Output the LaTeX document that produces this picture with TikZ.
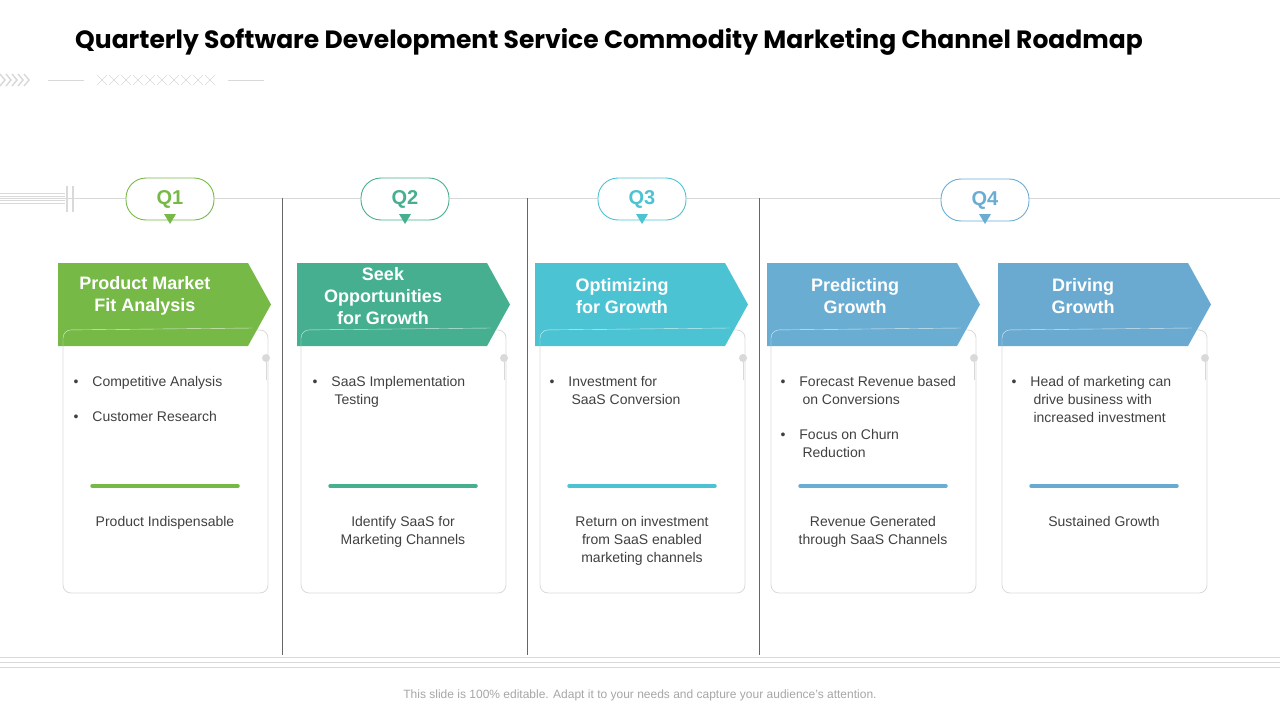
\documentclass[tikz,border=0pt]{standalone}
\usepackage{fontspec}
\setmainfont{Liberation Sans}
\newfontfamily\titlefont{Poppins}
\definecolor{cA}{HTML}{76B947}
\definecolor{cB}{HTML}{45AF8F}
\definecolor{cC}{HTML}{4CC3D2}
\definecolor{cD}{HTML}{6AADD2}
\definecolor{cE}{HTML}{6AAAD0}
\definecolor{lg}{HTML}{D9D9D9}
\definecolor{tx}{HTML}{404040}
\begin{document}
\begin{tikzpicture}[x=1pt,y=-1pt,
  pill/.style={draw=#1,line width=0.9pt,fill=white,rounded corners=20pt,minimum width=88pt,minimum height=42pt,text=#1,font=\fontsize{20}{22}\selectfont\bfseries},
  card/.style={draw=lg,rounded corners=8pt,line width=0.8pt},
  body/.style={text=tx,font=\fontsize{14}{18}\selectfont,align=left,anchor=north west},
  outc/.style={text=tx,font=\fontsize{14}{18}\selectfont,align=center,anchor=north},
  head/.style={text=white,font=\fontsize{18}{22}\selectfont\bfseries,align=center}]
\useasboundingbox (0,0) rectangle (1280,720);
\node[anchor=west,font=\titlefont\fontsize{25}{30}\selectfont\bfseries,inner sep=0] (title) at (75,42) {Quarterly Software Development Service Commodity Marketing Channel Roadmap};
% decor
\foreach \i in {0,...,4} \draw[lg,line width=1.5pt] (\i*6,74) -- (\i*6+5,80) -- (\i*6,86);
\draw[lg] (48,80) -- (84,80);
\foreach \i in {0,...,9} \draw[lg] (97+\i*12,75) -- (107+\i*12,85) (107+\i*12,75) -- (97+\i*12,85);
\draw[lg] (228,80) -- (264,80);
% timeline
\draw[lg] (0,198) -- (1280,198);
\foreach \y in {193,196,200,203} \draw[lg] (0,\y) -- (65,\y);
\draw[lg,line width=2.5pt] (67,186) -- (67,212) (73,186) -- (73,212);
\foreach \x in {282,527,759} \draw[gray!80!black] (\x,198) -- (\x,655);
\foreach \y in {657,662,667} \draw[lg] (0,\y) -- (1280,\y);
% columns
\foreach \n/\ax/\cx/\col in {1/58/63/cA,2/297/301/cB,3/535/540/cC,4/767/771/cD,5/998/1002/cE}{
  \draw[card] (\cx,330) rectangle (\cx+205,593);
  \fill[\col] (\ax,263) -- (\ax+190,263) -- (\ax+213,304.5) -- (\ax+190,346) -- (\ax,346) -- cycle;
  \draw[white!75!\col,rounded corners=8pt] (\cx,346) -- (\cx,330) -- (\cx+190,328);
  \fill[lg] (\cx+203,358) circle (4pt);
  \draw[lg] (\cx+203,362) -- (\cx+203,380);
  \draw[\col,line width=3.5pt,line cap=round] (\cx+29,486) -- (\cx+175,486);
}
\foreach \qx/\qy/\col/\t in {170/199/cA/Q1,405/199/cB/Q2,642/199/cC/Q3,985/200/cD/Q4}{
  \node[pill=\col] (q\t) at (\qx,\qy) {\t};
  \fill[\col] (\qx-6,214) -- (\qx+6,214) -- (\qx,224) -- cycle;
}
\node[head] (h1) at (145,296) {Product Market\\Fit Analysis};
\node[head] (h2) at (383,296) {Seek\\Opportunities\\for Growth};
\node[head] (h3) at (622,296) {Optimizing\\for Growth};
\node[head] (h4) at (855,296) {Predicting\\Growth};
\node[head] (h5) at (1083,296) {Driving\\Growth};
% bullets
\node[body] (b1) at (70,373) {•\hspace{14pt}Competitive Analysis\\[17pt]•\hspace{14pt}Customer Research};
\node[body] (b2) at (309,373) {•\hspace{14pt}SaaS Implementation\\\hspace{22pt}Testing};
\node[body] (b3) at (546,373) {•\hspace{14pt}Investment for\\\hspace{22pt}SaaS Conversion};
\node[body] (b4) at (777,373) {•\hspace{14pt}Forecast Revenue based\\\hspace{22pt}on Conversions\\[17pt]•\hspace{14pt}Focus on Churn\\\hspace{22pt}Reduction};
\node[body] (b5) at (1008,373) {•\hspace{14pt}Head of marketing can\\\hspace{22pt}drive business with\\\hspace{22pt}increased investment};
\node[outc] (o1) at (165,513) {Product Indispensable};
\node[outc] (o2) at (403,513) {Identify SaaS for\\Marketing Channels};
\node[outc] (o3) at (642,513) {Return on investment\\from SaaS enabled\\marketing channels};
\node[outc] (o4) at (873,513) {Revenue Generated\\through SaaS Channels};
\node[outc] (o5) at (1104,513) {Sustained Growth};
\node[text=gray!70,font=\fontsize{12}{14}\selectfont] (foot) at (640,695) {This slide is 100\% editable. Adapt it to your needs and capture your audience’s attention.};
\end{tikzpicture}
\end{document}
